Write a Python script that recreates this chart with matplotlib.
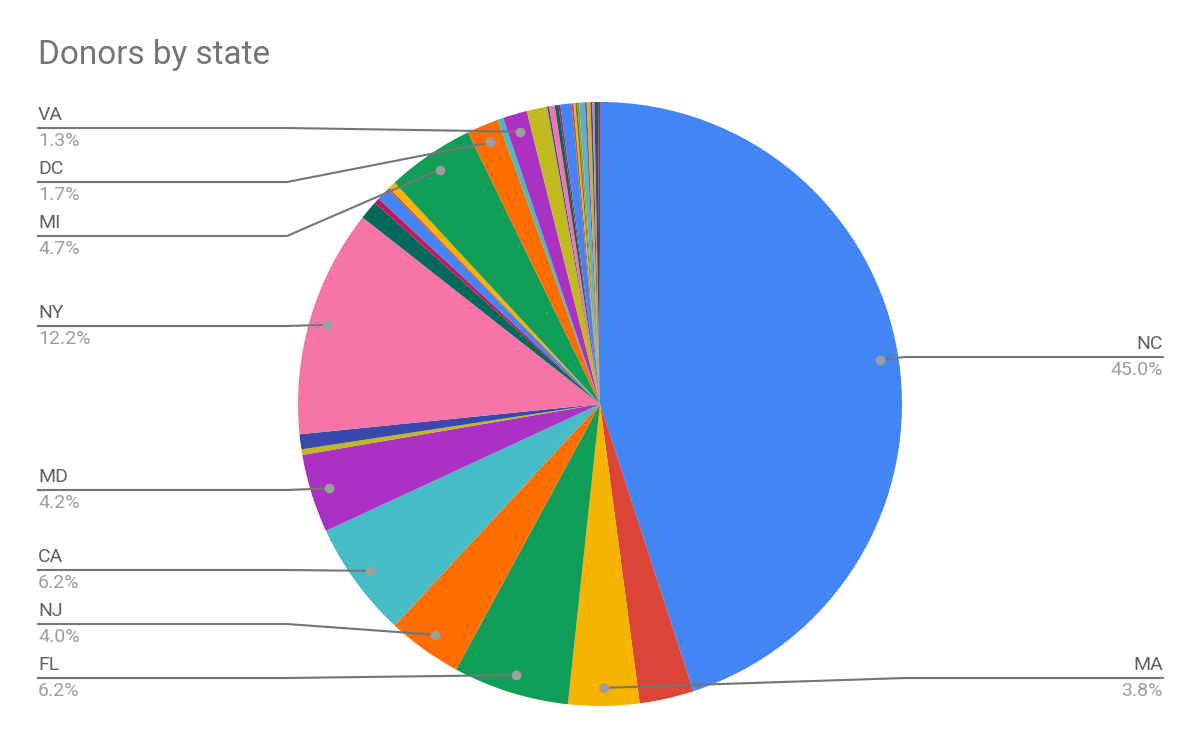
import matplotlib
matplotlib.use("Agg")
import matplotlib.pyplot as plt
import numpy as np

values = [45.0, 2.9, 3.8, 6.2, 4.0, 6.2, 4.2, 0.3, 0.8, 12.2, 1.0, 0.3, 0.7, 0.1, 0.4,
          4.7, 1.7, 0.3, 1.3, 1.1, 0.1, 0.3, 0.2, 0.1, 0.6, 0.1, 0.1, 0.1, 0.1, 0.3,
          0.1, 0.2, 0.1, 0.1, 0.2, 0.1]
palette = ["#4285F4", "#DB4437", "#F4B400", "#0F9D58", "#FF6D00", "#46BDC6",
           "#AB30C4", "#C0BA1E", "#3949AB", "#F774A7", "#00695C", "#C2185B"]
labels = {0: "NC", 2: "MA", 3: "FL", 4: "NJ", 5: "CA", 6: "MD", 9: "NY",
          15: "MI", 16: "DC", 18: "VA"}
pcts = {0: "45.0%", 2: "3.8%", 3: "6.2%", 4: "4.0%", 5: "6.2%", 6: "4.2%",
        9: "12.2%", 15: "4.7%", 16: "1.7%", 18: "1.3%"}
# label line y (pixels), side
label_y = {18: 128, 16: 182, 15: 236, 9: 326, 6: 490, 5: 570, 4: 624, 3: 678,
           0: 357, 2: 678}

plt.rcParams['font.family'] = ['Roboto', 'DejaVu Sans']
fig = plt.figure(figsize=(12, 7.42), dpi=100)
ax = fig.add_axes([0, 0, 1, 1])
R = 302.0
cx, cy = 600, 404
ax.set_xlim(-cx / R, (1200 - cx) / R)
ax.set_ylim((cy - 742) / R, cy / R)
ax.set_aspect('auto')
ax.axis('off')

colors = [palette[i % len(palette)] for i in range(len(values))]
wedges, _ = ax.pie(values, colors=colors, startangle=90, counterclock=False,
                   radius=1.0, center=(0, 0), frame=True,
                   wedgeprops=dict(linewidth=0))
ax.set_xlim(-cx / R, (1200 - cx) / R)
ax.set_ylim((cy - 742) / R, cy / R)
ax.axis('off')

def px(x, y):
    return (x - cx) / R, (cy - y) / R

for i, w in enumerate(wedges):
    if i not in labels:
        continue
    ang = np.deg2rad((w.theta1 + w.theta2) / 2)
    dx, dy = 0.94 * np.cos(ang), 0.94 * np.sin(ang)
    ly = label_y[i]
    if dx > 0:
        x0, xk = px(1163, ly)[0], px(905, ly)[0]
        ha, tx = 'right', px(1163, 0)[0]
    else:
        x0, xk = px(38, ly)[0], px(287, ly)[0]
        ha, tx = 'left', px(38, 0)[0]
    yl = px(0, ly)[1]
    ax.plot([x0, xk, dx], [yl, yl, dy], color="#757575", lw=1.5, zorder=5)
    ax.plot([dx], [dy], 'o', color="#9E9E9E", ms=6, zorder=6)
    ax.text(tx, px(0, ly - 4)[1], labels[i], ha=ha, va='bottom', fontsize=14, color="#616161")
    ax.text(tx, px(0, ly + 4)[1], pcts[i], ha=ha, va='top', fontsize=14, color="#9E9E9E")

fig.text(38 / 1200, 1 - 55 / 742, "Donors by state", fontsize=24, color="#757575",
         ha='left', va='center')
fig.savefig("out.png", dpi=100)
